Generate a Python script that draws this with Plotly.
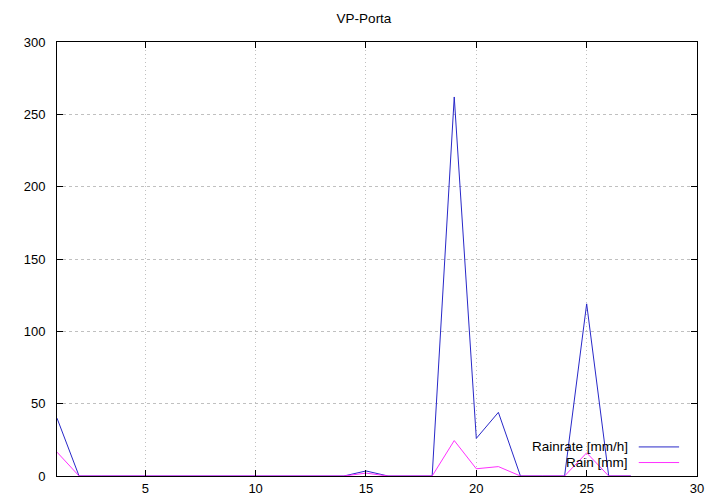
import plotly.graph_objects as go

days = list(range(1, 28))
rainrate = [40, 0, 0, 0, 0, 0, 0, 0, 0, 0, 0, 0, 0, 0, 3.5, 0, 0, 0, 262, 26, 44, 0, 0, 0, 119, 0, 0]
rain = [16.5, 0, 0, 0, 0, 0, 0, 0, 0, 0, 0, 0, 0, 0, 2, 0, 0, 0, 24.5, 5, 6.5, 0, 0, 0, 16, 0, 0]

FONT = "Liberation Sans, Arial, sans-serif"
BLUE = "#2828c8"
MAGENTA = "#ff30ff"

fig = go.Figure()
fig.add_trace(go.Scatter(x=days, y=rainrate, mode="lines", name="Rainrate [mm/h]",
                         line=dict(color=BLUE, width=1)))
fig.add_trace(go.Scatter(x=days, y=rain, mode="lines", name="Rain [mm]",
                         line=dict(color=MAGENTA, width=1)))

axis_common = dict(
    showline=True, linecolor="black", linewidth=1, mirror="ticks",
    ticks="inside", ticklen=6, tickcolor="black",
    showgrid=True, gridcolor="#c0c0c0", gridwidth=1, automargin=False,
    zeroline=False, tickfont=dict(family=FONT, size=13, color="black"),
)

fig.update_xaxes(range=[1, 30], tickvals=[5, 10, 15, 20, 25, 30], griddash="1px,3px", **axis_common)
fig.update_yaxes(range=[0, 300], dtick=50, ticklabelstandoff=8, griddash="3px,3px", **axis_common)

# gnuplot-like key: text right-aligned, line sample to the right
for i, (label, color) in enumerate([("Rainrate [mm/h]", BLUE), ("Rain [mm]", MAGENTA)]):
    yp = 0.067 - i * 0.036
    fig.add_annotation(x=0.895, y=yp, xref="paper", yref="paper", text=label,
                       showarrow=False, xanchor="right", yanchor="middle",
                       font=dict(family=FONT, size=13.5, color="black"))
    fig.add_shape(type="line", xref="paper", yref="paper", x0=0.909, x1=0.972,
                  y0=yp, y1=yp, line=dict(color=color, width=1))

# the page body adds an 8px margin, so the figure is drawn 8px smaller
fig.update_layout(
    width=712, height=496,
    margin=dict(l=49, r=23, t=34, b=28),
    paper_bgcolor="white", plot_bgcolor="white",
    showlegend=False,
    title=dict(text="VP-Porta", x=0.5, xanchor="center", y=0.98, yanchor="middle",
               font=dict(family=FONT, size=13.5, color="black")),
)

fig.write_html("out.html")
